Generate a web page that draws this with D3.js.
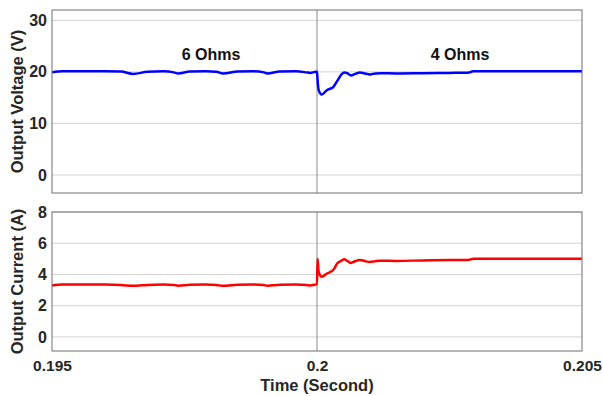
<!DOCTYPE html>
<html>
<head>
<meta charset="utf-8">
<script src="https://cdn.jsdelivr.net/npm/d3@7/dist/d3.min.js"></script>
<style>
  html, body { margin: 0; padding: 0; background: #fff; }
  svg { display: block; font-family: "Liberation Sans", Arial, sans-serif; }
</style>
</head>
<body>
<svg id="chart" width="603" height="396"></svg>
<script>
// Simulation time stamps (s)
const time = [
  0.1950, 0.1952, 0.1960, 0.1963, 0.19653, 0.1968, 0.1971, 0.1973, 0.19738, 0.1976,
  0.1979, 0.1981, 0.19823, 0.1985, 0.1988, 0.1990, 0.19906, 0.1993, 0.1996, 0.1998,
  0.19987, 0.19998, 0.2000, 0.20001, 0.20003, 0.20009, 0.20018, 0.20031, 0.20038, 0.20047,
  0.20051, 0.20058, 0.20064, 0.20072, 0.20081, 0.20090, 0.20100, 0.20110, 0.20120, 0.20150,
  0.20200, 0.20250, 0.20285, 0.20295, 0.2040, 0.2050
];
// Output voltage (V)
const voltage = [
  19.9, 20.1, 20.1, 20.05, 19.6, 20.0, 20.1, 19.9, 19.7, 20.05,
  20.1, 20.0, 19.7, 20.05, 20.1, 19.9, 19.7, 20.05, 20.1, 19.9,
  19.8, 20.0, 20.0, 18.5, 16.5, 15.6, 16.4, 17.1, 18.2, 19.6,
  19.9, 19.7, 19.3, 19.6, 19.9, 19.7, 19.5, 19.7, 19.75, 19.7,
  19.75, 19.8, 19.85, 20.1, 20.1, 20.1
];
// Output current (A)
const current = [
  3.30, 3.35, 3.35, 3.33, 3.27, 3.33, 3.36, 3.33, 3.28, 3.34,
  3.36, 3.33, 3.27, 3.34, 3.36, 3.32, 3.28, 3.34, 3.35, 3.33,
  3.30, 3.35, 3.35, 5.0, 4.2, 3.85, 4.05, 4.3, 4.7, 4.9,
  4.97, 4.85, 4.74, 4.85, 4.93, 4.86, 4.8, 4.85, 4.88, 4.87,
  4.9, 4.92, 4.93, 5.0, 5.0, 5.0
];

const xTicks = [0.195, 0.2, 0.205];
const vTicks = [0, 10, 20, 30];
const iTicks = [0, 2, 4, 6, 8];
const stepTime = 0.2;
const loadLabels = [
  { t: 0.1980, v: 23.3, text: "6 Ohms" },
  { t: 0.2027, v: 23.3, text: "4 Ohms" }
];

const svg = d3.select("#chart");
const left = 52, right = 582;

const x = d3.scaleLinear().domain([0.195, 0.205]).range([left, right]);

function panel(top, bottom, domain, ticks, values, color, label) {
  const y = d3.scaleLinear().domain(domain).range([bottom, top]);
  const g = svg.append("g");

  // horizontal grid
  g.selectAll("line.grid").data(ticks).join("line")
    .attr("x1", left).attr("x2", right)
    .attr("y1", d => y(d)).attr("y2", d => y(d))
    .attr("stroke", "#d4d4d4").attr("stroke-width", 1);

  // load-step marker
  g.append("line")
    .attr("x1", x(stepTime)).attr("x2", x(stepTime))
    .attr("y1", top).attr("y2", bottom)
    .attr("stroke", "#8c8c8c").attr("stroke-width", 1);

  // signal trace
  const line = d3.line()
    .x((d, i) => x(time[i]))
    .y(d => y(d))
    .curve(d3.curveMonotoneX);
  g.append("path").datum(values)
    .attr("d", line)
    .attr("fill", "none")
    .attr("stroke", color)
    .attr("stroke-width", 2.5)
    .attr("stroke-linejoin", "round");

  // frame
  g.append("rect")
    .attr("x", left).attr("y", top)
    .attr("width", right - left).attr("height", bottom - top)
    .attr("fill", "none").attr("stroke", "#6e6e6e").attr("stroke-width", 1);

  // y axis labels
  const yAxis = d3.axisLeft(y).tickValues(ticks).tickSize(0).tickPadding(5).tickFormat(d3.format("d"));
  const ya = g.append("g").attr("transform", `translate(${left},0)`).call(yAxis);
  ya.select(".domain").remove();
  ya.selectAll("text")
    .attr("font-size", 16).attr("font-weight", "bold")
    .attr("fill", "#262626")
    .attr("font-family", "'Liberation Sans', Arial, sans-serif");

  g.append("text")
    .attr("transform", `translate(17,${(top + bottom) / 2}) rotate(-90)`)
    .attr("text-anchor", "middle")
    .attr("dominant-baseline", "central")
    .attr("font-size", 16.5).attr("font-weight", "bold").attr("fill", "#262626")
    .text(label);
  return y;
}

const yV = panel(10, 193, [-3.5, 32], vTicks, voltage, "#0000ff", "Output Voltage (V)");
const yI = panel(212, 351, [-0.9, 8], iTicks, current, "#ff0000", "Output Current (A)");

// load annotations
svg.selectAll("text.load").data(loadLabels).join("text")
  .attr("class", "load")
  .attr("x", d => x(d.t)).attr("y", d => yV(d.v))
  .attr("text-anchor", "middle")
  .attr("dominant-baseline", "central")
  .attr("font-size", 16).attr("font-weight", "bold").attr("fill", "#111")
  .text(d => d.text);

// x axis
const xAxis = d3.axisBottom(x).tickValues(xTicks).tickSize(0).tickPadding(9).tickFormat(d => String(d));
const xa = svg.append("g").attr("transform", "translate(0,351)").call(xAxis);
xa.select(".domain").remove();
xa.selectAll("text")
  .attr("font-size", 15.5).attr("font-weight", "bold")
  .attr("fill", "#262626")
  .attr("font-family", "'Liberation Sans', Arial, sans-serif");

svg.append("text")
  .attr("x", (left + right) / 2).attr("y", 385)
  .attr("text-anchor", "middle")
  .attr("dominant-baseline", "central")
  .attr("font-size", 16.5).attr("font-weight", "bold").attr("fill", "#262626")
  .text("Time (Second)");
</script>
</body>
</html>
